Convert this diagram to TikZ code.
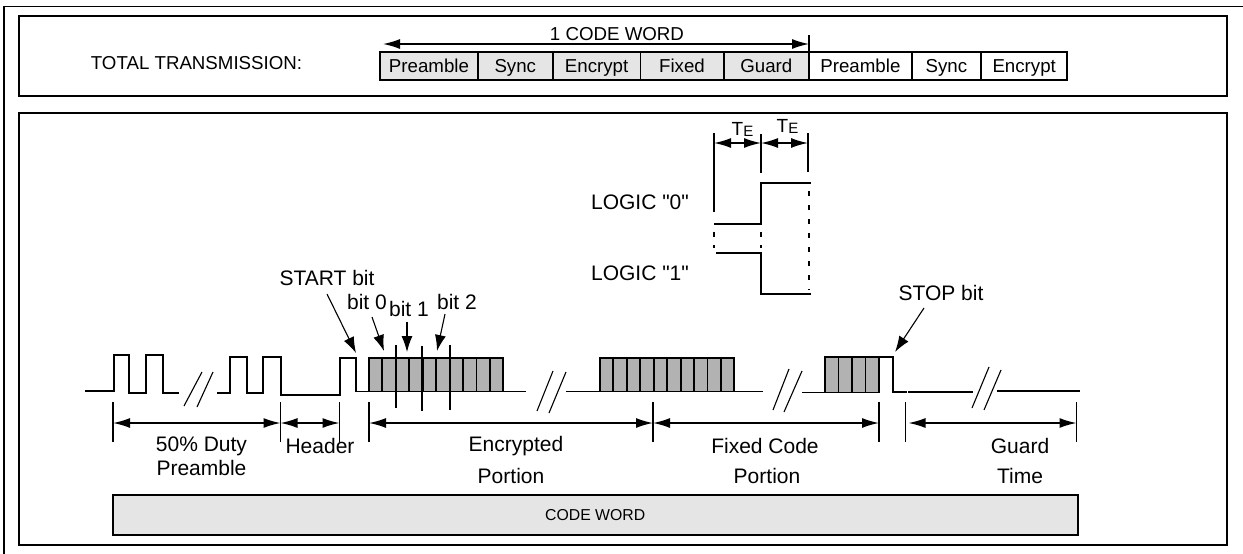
\documentclass[tikz,border=0pt]{standalone}
\usepackage{fontspec}
\setmainfont{Liberation Sans}[Ligatures=TeXOff]
\usepackage{xcolor}
\usetikzlibrary{arrows.meta, positioning}
\definecolor{cellgrey}{HTML}{E5E5E5}
\definecolor{bitgrey}{HTML}{B2B2B2}
\tikzset{
  wave/.style={line width=1.9pt},
  frameline/.style={line width=1.9pt},
  thinslash/.style={line width=1.1pt},
  dimtick/.style={line width=1.6pt},
  dimarrow/.style={line width=1.5pt, {Latex[length=17pt,width=10pt]}-{Latex[length=17pt,width=10pt]}},
  callout/.style={line width=1.1pt, -{Latex[length=16pt,width=11pt]}},
  label/.style={font=\fontsize{21}{23}\selectfont, inner sep=0pt},
  toplabel/.style={font=\fontsize{18.7}{20}\selectfont, inner sep=0pt},
  telabel/.style={font=\fontsize{19}{20}\selectfont, inner sep=0pt},
  celltext/.style={toplabel, draw, line width=1.9pt, minimum height=28pt, outer sep=0pt, text height=13pt, text depth=1pt},
  greycell/.style={celltext, fill=cellgrey},
  whitecell/.style={celltext, fill=white},
}
\begin{document}
\begin{tikzpicture}[x=1pt, y=-1pt]
\useasboundingbox (0,0) rectangle (1243,554);

% Rahmen
\draw[frameline] (1243,6.5) -- (4,6.5) -- (4,554);
\draw[frameline] (19,16) rectangle (1227,96);
\draw[frameline] (19,113) rectangle (1227,545);

% Kopfzeile
\node[toplabel] (total) at (196.5,63) {TOTAL TRANSMISSION:};
\node[greycell, minimum width=98pt] (cellA) at (429,66) {Preamble};
\node[greycell, minimum width=74.6pt] (cellB) at (515.3,66) {Sync};
\node[greycell, minimum width=88pt] (cellC) at (596.6,66) {Encrypt};
\node[greycell, minimum width=83pt] (cellD) at (682,66) {Fixed};
\node[greycell, minimum width=85.4pt] (cellE) at (766.3,66) {Guard};
\node[whitecell, minimum width=102.7pt] (cellF) at (860.4,66) {Preamble};
\node[whitecell, minimum width=69.3pt] (cellG) at (946.4,66) {Sync};
\node[whitecell, minimum width=86.4pt] (cellH) at (1024.2,66) {Encrypt};

% 1 Code Word
\node[toplabel] (codeword) at (617,34) {1 CODE WORD};
\coordinate (wordL) at (383,44);
\coordinate (wordR) at (809,44);
\draw[dimtick] (809,35) -- (cellE.north east);
\draw[dimarrow] (wordL) -- (wordR);

% TE Bemassung
\node[telabel] (teA) at (742.5,129) {T\raisebox{-1pt}{\fontsize{15}{15}\selectfont E}};
\node[telabel] (teB) at (787.5,126) {T\raisebox{-1pt}{\fontsize{15}{15}\selectfont E}};
\coordinate (teL) at (714,143);
\coordinate (teM) at (761,143);
\coordinate (teR) at (808,143);
\draw[dimtick] ([yshift=10]teL) -- ([yshift=-69]teL);
\draw[dimtick] ([yshift=9]teM) -- ([yshift=-30]teM);
\draw[dimtick] ([yshift=10]teR) -- ([yshift=-29]teR);
\draw[dimarrow] (teL) -- (teM);
\draw[dimarrow] (teM) -- (teR);

% Logikpegel
\node[label] (logicA) at (640,202) {LOGIC "0"};
\node[label] (logicB) at (640,273) {LOGIC "1"};
\draw[wave] (714,224) -- (761,224) -- (761,183) -- (811,183);
\draw[wave] (716,253) -- (761,253) -- (761,294) -- (811,294);
\draw[wave, dash pattern=on 5pt off 9pt] (809,191) -- (809,290);
\draw[wave, dash pattern=on 5pt off 8pt] (714,232) -- (714,248);
\draw[wave, dash pattern=on 5pt off 8pt] (761,232) -- (761,248);

% Praeambel
\draw[wave] (85,391) -- (114,391) -- (114,355) -- (129,355) -- (129,393) -- (146,393) -- (146,355) -- (163,355) -- (163,393) -- (179,393);
\draw[thinslash] (184,406) -- (202,372);
\draw[thinslash] (197,407) -- (213,372);
\draw[wave] (217,393) -- (230,393) -- (230,357) -- (247,357) -- (247,393) -- (263,393) -- (263,357) -- (281,357) -- (281,395) -- (340,395) -- (340,358) -- (356,358) -- (356,391.5) -- (369,391.5);

% Verschluesselter Teil
\draw[wave, fill=bitgrey] (369,358) rectangle (503,391.5);
\foreach \x in {1,...,9}
  \draw[wave] (369+13.44*\x,358) -- (369+13.44*\x,391.5);
\draw[wave] (503,391.5) -- (526,391.5);
\draw[thinslash] (537,411) -- (553,371);
\draw[thinslash] (549,413) -- (566,372);

% Bit Marken
\draw[dimtick] (396,345) -- (396,408);
\draw[dimtick] (422,346) -- (422,411);
\draw[dimtick] (450,345) -- (450,410);

% Fester Teil
\draw[wave] (566,391.5) -- (600,391.5);
\draw[wave, fill=bitgrey] (600,358) rectangle (734,391.5);
\foreach \x in {1,...,9}
  \draw[wave] (600+13.44*\x,358) -- (600+13.44*\x,391.5);
\draw[wave] (734,391.5) -- (763,391.5);
\draw[thinslash] (773,410) -- (789,369);
\draw[thinslash] (784,412) -- (802,371);

% Stoppbit und Schutzzeit
\draw[wave] (802,392.5) -- (825,392.5);
\draw[wave, fill=bitgrey] (825,357) rectangle (879,392.5);
\foreach \x in {1,2,3}
  \draw[wave] (825+13.5*\x,357) -- (825+13.5*\x,392.5);
\draw[wave] (879,357) -- (893,357) -- (893,392) -- (907,392);
\draw[wave] (908,392) -- (973,392);
\draw[thinslash] (972,408) -- (989,367);
\draw[thinslash] (984,410) -- (1001,370);
\draw[wave] (997,390.7) -- (1080,390.7);

% Beschriftung der Bits
\node[label] (startbit) at (327,278) {START bit};
\node[label] (bitA) at (367,302) {bit 0};
\node[label] (bitB) at (409,309) {bit 1};
\node[label] (bitC) at (457,302) {bit 2};
\node[label] (stopbit) at (941,293) {STOP bit};
\coordinate (startTip) at (356,353);
\coordinate (bitTipA) at (384,351);
\coordinate (bitTipB) at (407,352);
\coordinate (bitTipC) at (437,351);
\coordinate (stopTip) at (895,352);
\draw[callout] (startbit) ++(0,16) -- (startTip);
\draw[callout] (372,317) -- (bitTipA);
\draw[callout] (407,322) -- (bitTipB);
\draw[callout] (445,314) -- (bitTipC);
\draw[callout] (924,308) -- (stopTip);

% Bemassung unten
\coordinate (dimA) at (113,423);
\coordinate (dimB) at (280.5,423);
\coordinate (dimC) at (339.5,423);
\coordinate (dimD) at (369,423);
\coordinate (dimE) at (653,423);
\coordinate (dimF) at (879,423);
\coordinate (dimG) at (905.5,423);
\coordinate (dimH) at (1076.5,423);
\foreach \n in {dimA,dimB,dimC,dimD,dimE,dimF,dimG,dimH}
  \draw[dimtick] ([yshift=21]\n) -- ([yshift=-19]\n);
\draw[dimarrow] (dimA) -- (dimB);
\draw[dimarrow] (dimB) -- (dimC);
\draw[dimarrow] (dimD) -- (dimE);
\draw[dimarrow] (dimE) -- (dimF);
\draw[dimarrow] ([xshift=3]dimG) -- (dimH);

% Abschnittsnamen
\node[label] (duty) at (201.5,446) {50\% Duty};
\node[label] (preamble) at (201.5,468) {Preamble};
\node[label] (header) at (320,446) {Header};
\node[label] (encrypted) at (516,446) {Encrypted};
\node[label] (portionA) at (511,476) {Portion};
\node[label] (fixedcode) at (765,446) {Fixed Code};
\node[label] (portionB) at (767,476) {Portion};
\node[label] (guard) at (1020,446) {Guard};
\node[label] (time) at (1020,476) {Time};

% Codewort
\node[draw, frameline, fill=cellgrey, minimum width=965pt, minimum height=40pt, outer sep=0pt, inner sep=0pt, font=\fontsize{15.8}{17}\selectfont] (wordbar) at (595.2,515) {CODE WORD};
\end{tikzpicture}
\end{document}
